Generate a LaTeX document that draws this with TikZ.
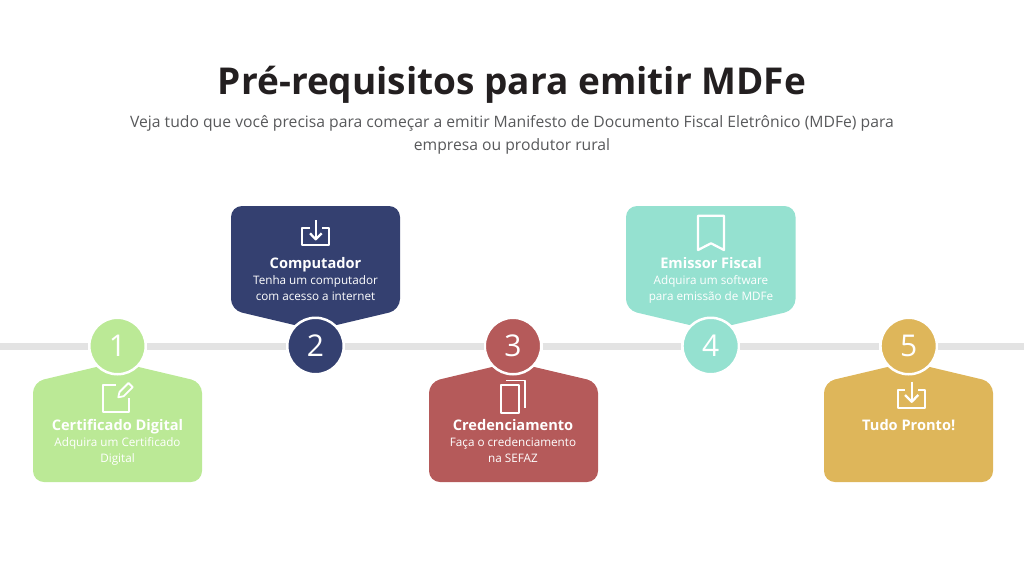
\documentclass[tikz,border=0pt]{standalone}
\usepackage{fontspec}
\setmainfont{Open Sans}
\definecolor{verde}{HTML}{BBE996}
\definecolor{azul}{HTML}{344070}
\definecolor{vermelho}{HTML}{B55A5A}
\definecolor{turquesa}{HTML}{95E1D0}
\definecolor{ouro}{HTML}{DEB65A}
\definecolor{linha}{HTML}{E3E3E3}
\definecolor{titulo}{HTML}{231F20}
\definecolor{subtitulo}{HTML}{58595B}
\tikzset{
  cartao/.style={rounded corners=11pt},
  numero/.style={circle, draw=white, line width=2.5pt, minimum size=56.5pt, inner sep=0pt, text=white, font=\fontsize{30}{30}\selectfont},
  trilho/.style={draw=linha, line width=7pt},
  icone/.style={draw=white, line width=2.3pt, line join=round},
  nome/.style={anchor=base, text=white, inner sep=0pt, font=\fontsize{14.6}{16}\selectfont\bfseries},
  texto/.style={anchor=base, text=white, inner sep=0pt, font=\fontsize{11.7}{13}\selectfont},
  chamada/.style={anchor=base, text=subtitulo, font=\fontsize{15.7}{16}\selectfont}
}
\begin{document}
\begin{tikzpicture}[x=1pt, y=-1pt]
  \useasboundingbox (0,0) rectangle (1024,576);
  % titulo
  \node[anchor=base, text=titulo, font=\fontsize{37}{38}\selectfont\bfseries] (tit) at (512,94) {Pré-requisitos para emitir MDFe};
  \node[chamada] (sub1) at (512,127) {Veja tudo que você precisa para começar a emitir Manifesto de Documento Fiscal Eletrônico (MDFe) para};
  \node[chamada] (sub2) at (512,150) {empresa ou produtor rural};
  % cartoes
  \fill[verde, cartao] (33,482) -- (33,382) -- (117.5,362) -- (202,382) -- (202,482) -- cycle;
  \fill[azul, cartao] (231,206) -- (400,206) -- (400,310) -- (315.5,330) -- (231,310) -- cycle;
  \fill[vermelho, cartao] (429,482) -- (429,382) -- (513,362) -- (598,382) -- (598,482) -- cycle;
  \fill[turquesa, cartao] (626,206) -- (795.5,206) -- (795.5,310) -- (710.7,330) -- (626,310) -- cycle;
  \fill[ouro, cartao] (824,482) -- (824,382) -- (908.7,362) -- (993,382) -- (993,482) -- cycle;
  % circulos
  \node[numero, fill=verde] (n1) at (117.5,346) {1};
  \node[numero, fill=azul] (n2) at (315.5,346) {2};
  \node[numero, fill=vermelho] (n3) at (513,346) {3};
  \node[numero, fill=turquesa] (n4) at (710.7,346) {4};
  \node[numero, fill=ouro] (n5) at (908.7,346) {5};
  % linha entre eles
  \coordinate (esq) at (0,346);
  \coordinate (dir) at (1024,346);
  \draw[trilho] (esq) -- (n1);
  \draw[trilho] (n1) -- (n2);
  \draw[trilho] (n2) -- (n3);
  \draw[trilho] (n3) -- (n4);
  \draw[trilho] (n4) -- (n5);
  \draw[trilho] (n5) -- (dir);
  % icone 1
  \draw[icone] (116,385) -- (102.7,385) -- (102.7,411.7) -- (129.3,411.7) -- (129.3,398);
  \draw[icone, line width=1.8pt] (118.3,397.3) -- (119.5,392) -- (128.5,383) -- (132.7,387.2) -- (123.7,396.2) -- cycle;
  % icone 2
  \draw[icone] (310,228.3) -- (302,228.3) -- (302,245) -- (329.3,245) -- (329.3,228.3) -- (321.7,228.3);
  \draw[icone] (315.7,220) -- (315.7,239.3);
  \draw[icone] (310,233.3) -- (315.7,239.3) -- (321.7,233.3);
  % icone 3
  \draw[icone] (501,385) rectangle (519.3,412.7);
  \draw[icone, line width=1.5pt] (506,380.7) -- (525,380.7) -- (525,408.3);
  % icone 4
  \draw[icone] (698,215.7) -- (724,215.7) -- (724,250) -- (711,243.3) -- (698,250) -- cycle;
  % icone 5
  \draw[icone] (905,390) -- (898.3,390) -- (898.3,408.3) -- (925,408.3) -- (925,390) -- (918.3,390);
  \draw[icone] (911.7,381.7) -- (911.7,401.7);
  \draw[icone] (905,395) -- (911.7,401.7) -- (918.3,395);
  % textos
  \node[nome] (c1) at (117.5,430) {Certificado Digital};
  \node[texto] (c1a) at (117.5,446) {Adquira um Certificado};
  \node[texto] (c1b) at (117.5,462) {Digital};
  \node[nome] (c2) at (315.5,268) {Computador};
  \node[texto] (c2a) at (315.5,284) {Tenha um computador};
  \node[texto] (c2b) at (315.5,300) {com acesso a internet};
  \node[nome] (c3) at (513,430) {Credenciamento};
  \node[texto] (c3a) at (513,446) {Faça o credenciamento};
  \node[texto] (c3b) at (513,462) {na SEFAZ};
  \node[nome] (c4) at (711,268) {Emissor Fiscal};
  \node[texto] (c4a) at (711,284) {Adquira um software};
  \node[texto] (c4b) at (711,300) {para emissão de MDFe};
  \node[nome] (c5) at (908.7,430) {Tudo Pronto!};
\end{tikzpicture}
\end{document}
